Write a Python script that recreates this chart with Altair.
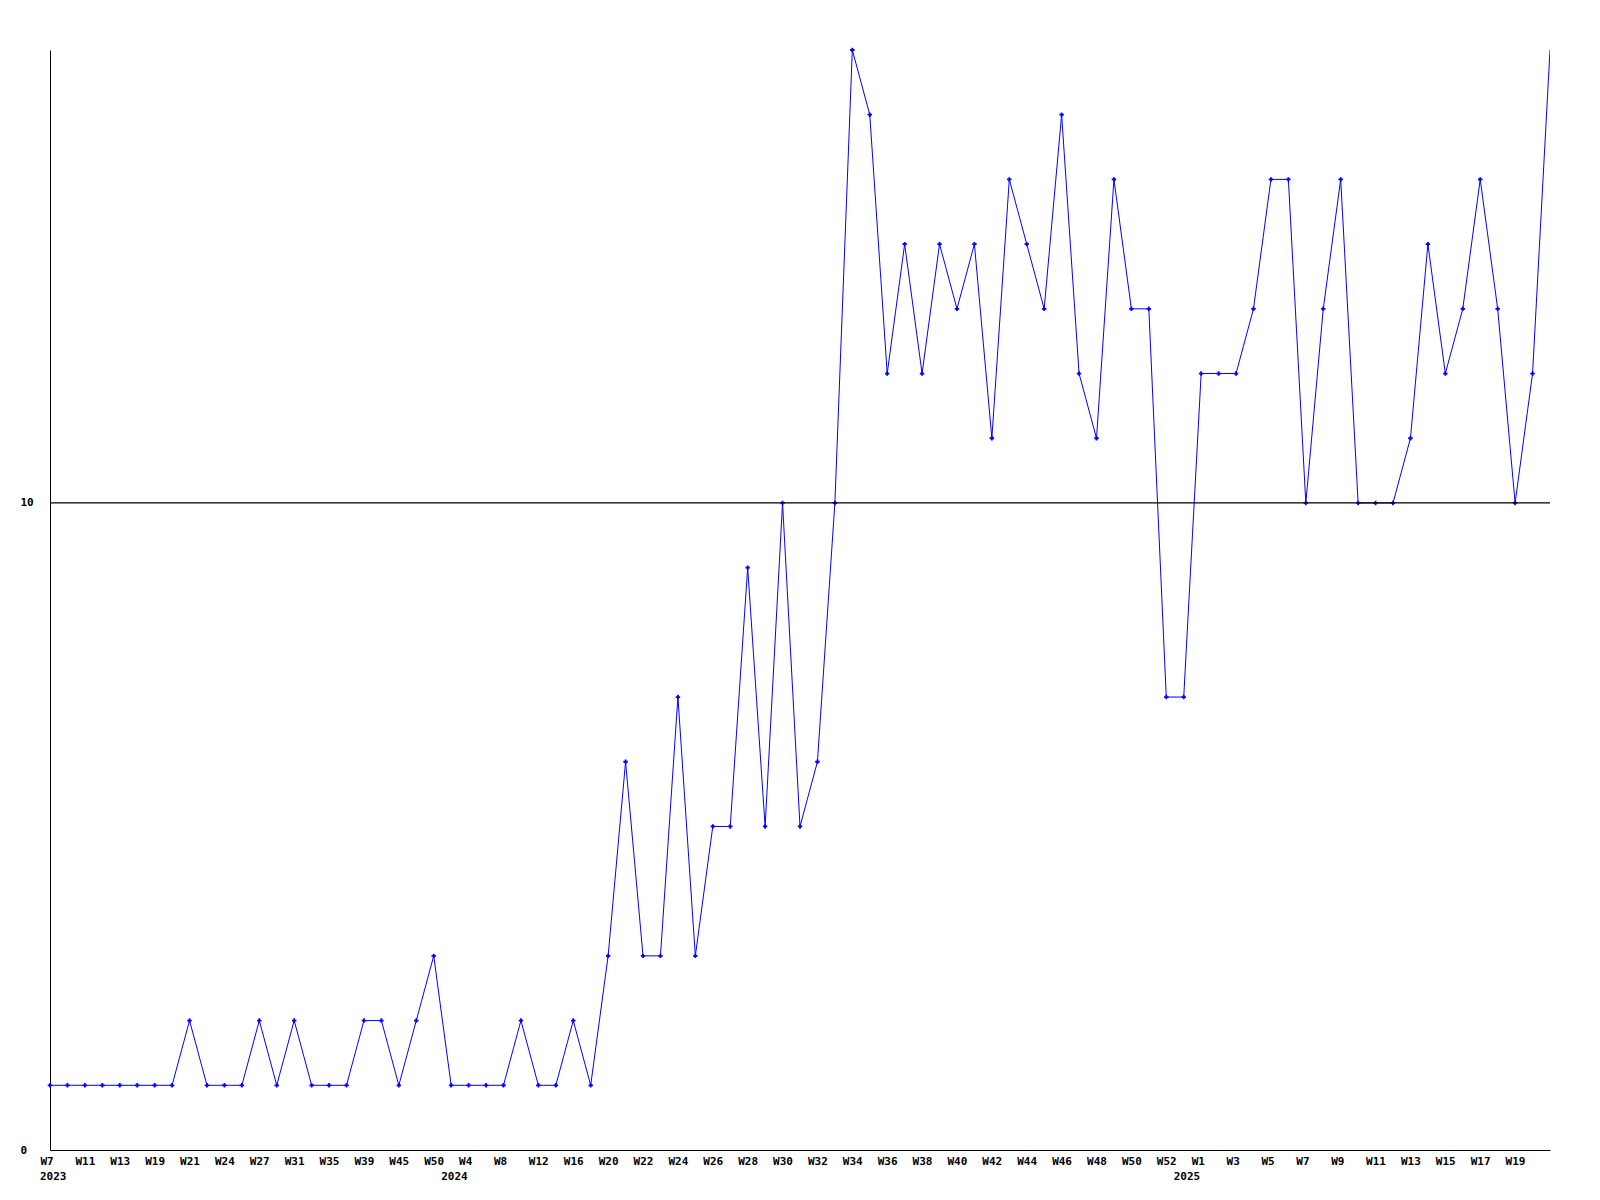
import altair as alt
import pandas as pd

# weekly counts, in order of the points along the x axis
values = [1, 1, 1, 1, 1, 1, 1, 1, 2, 1,
          1, 1, 2, 1, 2, 1, 1, 1, 2, 2,
          1, 2, 3, 1, 1, 1, 1, 2, 1, 1,
          2, 1, 3, 6, 3, 3, 7, 3, 5, 5,
          9, 5, 10, 5, 6, 10, 17, 16, 12, 14,
          12, 14, 13, 14, 11, 15, 14, 13, 16, 12,
          11, 15, 13, 13, 7, 7, 12, 12, 12, 13,
          15, 15, 10, 13, 15, 10, 10, 10, 11, 14,
          12, 13, 15, 13, 10, 12, 17]

# tick labels, shown on every second point
tick_labels = ["W7", "W11", "W13", "W19", "W21", "W24", "W27", "W31", "W35", "W39",
               "W45", "W50", "W4", "W8", "W12", "W16", "W20", "W22", "W24", "W26",
               "W28", "W30", "W32", "W34", "W36", "W38", "W40", "W42", "W44", "W46",
               "W48", "W50", "W52", "W1", "W3", "W5", "W7", "W9", "W11", "W13",
               "W15", "W17", "W19"]

# year labels and the point index where each year starts
years = ["2023", "2024", "2025"]
year_index = [0, 23, 65]

y_ticks = [0, 10]
ref_value = 10

FONT = "DejaVu Sans Mono"
W, H = 1500, 1100

df = pd.DataFrame({"i": list(range(len(values))), "v": values})
df_years = pd.DataFrame({"i": year_index, "year": years})
tick_positions = [2 * k for k in range(len(tick_labels))]
label_js = "[" + ",".join("'%s'" % t for t in tick_labels) + "]"
last_i = len(values) - 1

x_scale = alt.Scale(domain=[0, last_i], nice=False, zero=False)
y_scale = alt.Scale(domain=[0, 17], nice=False)

x_axis = alt.Axis(
    values=tick_positions,
    labelExpr=label_js + "[round(datum.value/2)]",
    title=None, grid=False, ticks=False, tickSize=0,
    labelAlign="left", labelOffset=-10, labelBaseline="middle", labelPadding=11,
    labelFont=FONT, labelFontSize=11, labelFontWeight="bold", labelColor="black",
    domainColor="black", domainWidth=1, labelOverlap=False, labelFlush=False,
    labelBound=False,
)
y_axis = alt.Axis(
    values=y_ticks, format="d", title=None, grid=False, ticks=False, tickSize=0,
    labelAlign="left", labelPadding=30, labelBaseline="middle",
    labelFont=FONT, labelFontSize=11, labelFontWeight="bold", labelColor="black",
    domainColor="black", domainWidth=1, labelOverlap=False,
)

x_enc = alt.X("i:Q", scale=x_scale, axis=x_axis)
y_enc = alt.Y("v:Q", scale=y_scale, axis=y_axis)

base = alt.Chart(df)

line = base.mark_line(color="#0000FF", strokeWidth=1, clip=True).encode(x=x_enc, y=y_enc)
points = base.mark_point(shape="cross", filled=True, size=20, color="#0000FF",
                         opacity=1).encode(x=x_enc, y=y_enc).transform_filter(
    alt.datum.i < last_i)
rule = alt.Chart(pd.DataFrame({"r": [ref_value]})).mark_rule(color="black", strokeWidth=1.2).encode(
    y=alt.Y("r:Q", scale=y_scale, axis=y_axis),
)
year_text = alt.Chart(df_years).mark_text(
    font=FONT, fontSize=11, fontWeight="bold", color="black",
    align="left", baseline="middle", dx=-10,
).encode(
    x=alt.X("i:Q", scale=x_scale, axis=x_axis),
    y=alt.value(H + 27),
    text="year:N",
)

chart = alt.layer(line, points, rule, year_text).properties(
    width=W, height=H,
    autosize=alt.AutoSizeParams(type="none"),
    padding={"left": 42, "top": 42, "right": 40, "bottom": 50},
    background="white",
).configure_view(stroke=None).configure_axis(labelOverlap=False)

chart.save("out.html", embed_options={"renderer": "svg", "actions": False})
